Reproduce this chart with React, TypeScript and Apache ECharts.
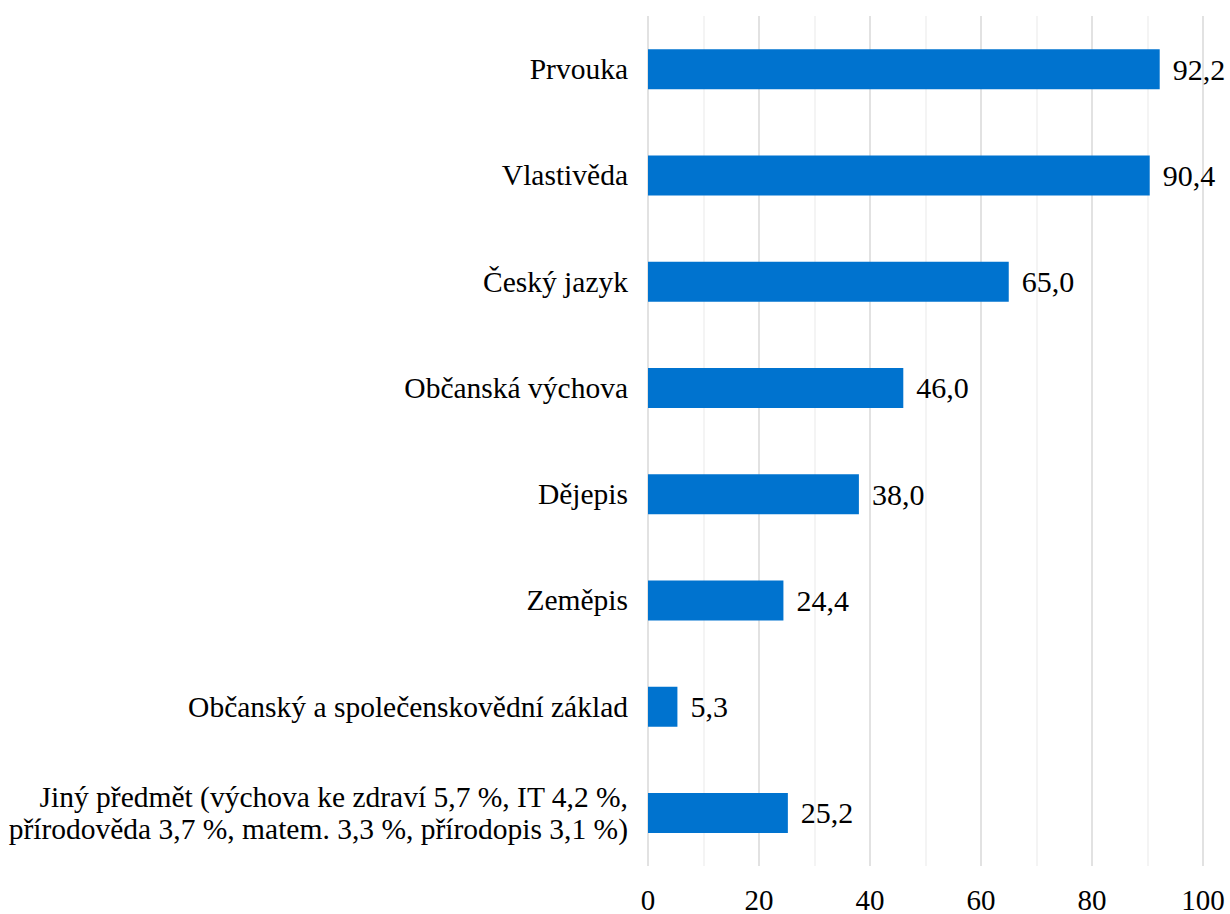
import React, { useEffect, useRef } from "react";
import * as echarts from "echarts";

const categories = [
  "Prvouka",
  "Vlastivěda",
  "Český jazyk",
  "Občanská výchova",
  "Dějepis",
  "Zeměpis",
  "Občanský a společenskovědní základ",
  "Jiný předmět (výchova ke zdraví 5,7 %, IT 4,2 %,\npřírodověda 3,7 %, matem. 3,3 %, přírodopis 3,1 %)",
];
const values = [92.2, 90.4, 65.0, 46.0, 38.0, 24.4, 5.3, 25.2];

const FONT = "Liberation Serif";

export default function App() {
  const ref = useRef<HTMLDivElement>(null);
  useEffect(() => {
    if (!ref.current) return;
    const chart = echarts.init(ref.current, undefined, { renderer: "svg" });
    chart.setOption({
      animation: false,
      grid: { left: 648, right: 27, top: 16, bottom: 46, containLabel: false },
      xAxis: {
        type: "value",
        min: 0,
        max: 100,
        interval: 20,
        axisLine: { show: false },
        axisTick: { show: false },
        axisLabel: { color: "#000", fontFamily: FONT, fontSize: 29, margin: 19 },
        splitLine: { show: true, lineStyle: { color: "#d9d9d9", width: 1.5 } },
        minorTick: { show: false, splitNumber: 2 },
        minorSplitLine: { show: true, lineStyle: { color: "#f0f0f0", width: 1.5 } },
      },
      yAxis: {
        type: "category",
        inverse: true,
        data: categories,
        axisLine: { show: false },
        axisTick: { show: false },
        axisLabel: {
          color: "#000",
          fontFamily: FONT,
          fontSize: 29.5,
          margin: 20,
          lineHeight: 32,
          align: "right",
        },
      },
      series: [
        {
          type: "bar",
          data: values,
          barWidth: 40,
          itemStyle: { color: "#0073cf" },
          label: {
            show: true,
            position: "right",
            distance: 13,
            color: "#000",
            fontFamily: FONT,
            fontSize: 30,
            formatter: (p: any) => p.value.toFixed(1).replace(".", ","),
          },
        },
      ],
    });
    return () => chart.dispose();
  }, []);
  return (
    <div
      ref={ref}
      style={{ position: "fixed", left: 0, top: 0, width: 1230, height: 914, background: "#fff" }}
    />
  );
}
